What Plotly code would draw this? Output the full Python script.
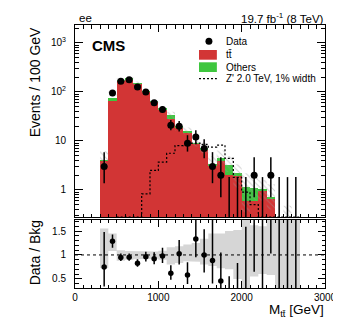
import numpy as np
import plotly.graph_objects as go

# ---------------- data ----------------
bin_lo = np.arange(300, 2700, 100)          # 100 GeV bins, 300 - 2700 GeV
bin_width = 100
data_counts = [3, 95, 165, 178, 126, 100, 60, 44, 21, 20, 9, 12, 7, 3, 2,
               0, 0, 0, 2, 0, 2, 0, 0, 0]
ttbar = [3.9, 66, 168, 181, 146, 101, 63, 43.5, 28, 18.7, 15.0, 8.7, 6.7, 3.2,
         3.95, 2.05, 1.9, 0.6, 0.6, 0.98, 0.67, 0.1, 0.25, 0.1]
others = [0.1, 8, 6, 6, 6, 3, 2, 1.5, 6, 0.8, 0.5, 0.3, 0.3, 0.2,
          0.45, 1.25, 0.3, 0.55, 0.5, 0.02, 0.02, 0, 0, 0]
zprime = [0, 0, 0, 0, 0, 0.83, 2.5, 3.7, 5.6, 8.0, 8.3, 9.0, 8.5, 7.5,
          8.2, 4.4, 1.8, 0.9, 0.5, 0, 0, 0, 0, 0]
zprime_first_bin = 2                         # drawn from 500 GeV on
unc_lo = [0.73, 1.08, 0.88, 0.90, 0.91, 0.92, 0.92, 0.90, 0.80, 0.83, 0.87, 0.86,
          0.80, 0.77, 0.72, 0.70, 0.50, 0.30, 0.55, 0.60, 0.58, 0.0, 0.0, 0.0]
unc_hi = [1.55, 1.45, 1.10, 1.08, 1.07, 1.07, 1.07, 1.09, 1.16, 1.18, 1.22, 1.25,
          1.34, 1.45, 1.45, 1.50, 1.52, 1.90, 1.62, 1.60, 1.90, 1.90, 1.90, 1.90]

top_ticks = [1, 10, 100, 1000]
top_ticktext = ["1", "10", "10<sup>2</sup>", "10<sup>3</sup>"]

# ---------------- derived ----------------
n = np.array(data_counts, float)
tt = np.array(ttbar, float)
ot = np.array(others, float)
stack = tt + ot
centers = bin_lo + bin_width / 2.0
edges = np.append(bin_lo, bin_lo[-1] + bin_width)

# approximate Garwood (68%) Poisson intervals
nn = np.maximum(n, 1e-9)
err_dn = np.where(n > 0, n - n * (1 - 1 / (9 * nn) - 1 / (3 * np.sqrt(nn))) ** 3, 0.0)
err_up = (n + 1) * (1 - 1 / (9 * (n + 1)) + 1 / (3 * np.sqrt(n + 1))) ** 3 - n

y_log_range = [np.log10(0.28), 3.367]
ratio_range = [0.31, 1.74]
tiny = 1e-3

FONT = "Liberation Sans, Arial, Helvetica, sans-serif"
RED = "#d23535"
GREEN = "#3ec63e"

W, H = 341, 320
L, R, T, B = 67, 22, 17, 40


def px_x(p):
    return (p - L) / (W - L - R)


def px_y(p):
    return (H - B - p) / (H - T - B)


fig = go.Figure()

# stacked backgrounds
fig.add_trace(go.Bar(x=centers, y=tt, width=bin_width, marker=dict(color=RED, line=dict(width=0)),
                     xaxis="x", yaxis="y", showlegend=False))
fig.add_trace(go.Bar(x=centers, y=ot, width=bin_width, marker=dict(color=GREEN, line=dict(width=0)),
                     xaxis="x", yaxis="y", showlegend=False))

# hatched uncertainty band on the stack
hx, hy = [], []
for i in range(len(bin_lo)):
    hx += [edges[i], edges[i + 1]]
    hy += [stack[i] * unc_hi[i]] * 2
for i in reversed(range(len(bin_lo))):
    hx += [edges[i + 1], edges[i]]
    hy += [max(stack[i] * unc_lo[i], tiny)] * 2
fig.add_trace(go.Scatter(x=hx, y=hy, mode="lines", fill="toself", line=dict(width=0),
                         fillcolor="rgba(0,0,0,0)",
                         fillpattern=dict(shape="\\", fgcolor="rgba(150,150,150,0.9)",
                                          bgcolor="rgba(0,0,0,0)", size=4, solidity=0.25),
                         xaxis="x", yaxis="y", showlegend=False, hoverinfo="skip"))

# Z' signal, dashed step line
zp = np.array(zprime, float)[zprime_first_bin:]
zp = np.maximum(zp, 10 ** y_log_range[0])
zx = edges[zprime_first_bin:]
fig.add_trace(go.Scatter(x=zx, y=np.append(zp, zp[-1]), mode="lines", line_shape="hv",
                         line=dict(color="black", width=1.2, dash="2px,2px"),
                         xaxis="x", yaxis="y", showlegend=False))

# data
fig.add_trace(go.Scatter(x=centers, y=np.where(n > 0, n, tiny), mode="markers",
                         marker=dict(size=7, color="black"),
                         error_y=dict(type="data", symmetric=False, array=err_up, arrayminus=err_dn,
                                      color="black", thickness=1.5, width=0),
                         xaxis="x", yaxis="y", showlegend=False))

# ratio band
bx, by = [], []
for i in range(len(bin_lo)):
    bx += [edges[i], edges[i + 1]]
    by += [unc_hi[i]] * 2
for i in reversed(range(len(bin_lo))):
    bx += [edges[i + 1], edges[i]]
    by += [unc_lo[i]] * 2
fig.add_trace(go.Scatter(x=bx, y=by, mode="lines", fill="toself", line=dict(width=0),
                         fillcolor="#d6d6d6", xaxis="x2", yaxis="y2", showlegend=False,
                         hoverinfo="skip"))

ratio = n / stack
fig.add_trace(go.Scatter(x=centers, y=ratio, mode="markers",
                         marker=dict(size=5.5, color="black"),
                         error_y=dict(type="data", symmetric=False, array=err_up / stack,
                                      arrayminus=err_dn / stack, color="black", thickness=1.5, width=0),
                         xaxis="x2", yaxis="y2", showlegend=False))

axis_common = dict(showline=True, linecolor="black", linewidth=1, mirror="allticks",
                   ticks="inside", tickcolor="black", showgrid=False, zeroline=False,
                   tickfont=dict(family=FONT, size=10, color="black"))

fig.update_layout(
    width=W, height=H, margin=dict(l=L, r=R, t=T, b=B),
    paper_bgcolor="white", plot_bgcolor="white",
    barmode="stack", bargap=0,
    font=dict(family=FONT, color="black"),
    xaxis=dict(domain=[0, 1], anchor="y", range=[0, 3000], dtick=1000, tick0=0, ticklen=7,
               showticklabels=False,
               minor=dict(ticks="inside", dtick=100, tick0=0, ticklen=3.5, tickcolor="black"),
               **axis_common),
    yaxis=dict(domain=[px_y(209), 1], anchor="x", type="log", range=y_log_range,
               tickmode="array", tickvals=top_ticks, ticktext=top_ticktext, ticklen=8,
               ticklabelstandoff=6,
               minor=dict(ticks="inside", ticklen=4, tickcolor="black",
                          tickvals=[m * 10 ** e for e in range(-1, 4) for m in range(2, 10)]),
               **axis_common),
    xaxis2=dict(domain=[0, 1], anchor="y2", matches="x", range=[0, 3000], dtick=1000, tick0=0,
                ticklen=7,
                minor=dict(ticks="inside", dtick=100, tick0=0, ticklen=3.5, tickcolor="black"),
                **axis_common),
    yaxis2=dict(domain=[0, px_y(211.5)], anchor="x2", range=ratio_range, tick0=0.5, dtick=0.5,
                ticklen=7, ticklabelstandoff=6,
                minor=dict(ticks="inside", dtick=0.1, tick0=0, ticklen=3.5, tickcolor="black"),
                **axis_common),
)

# unity line in ratio panel
fig.add_shape(type="line", xref="x2", yref="y2", x0=0, x1=3000, y0=1, y1=1,
              line=dict(color="black", width=1, dash="dot"))

# texts
ann = []
ann.append(dict(text="ee", x=px_x(69), y=px_y(10.5), xanchor="left", yanchor="middle",
                font=dict(size=11.5)))
ann.append(dict(text="19.7 fb<sup>-1</sup> (8 TeV)", x=px_x(320), y=px_y(10.5), xanchor="right",
                yanchor="middle", font=dict(size=11.5)))
ann.append(dict(text="<b>CMS</b>", x=px_x(82), y=px_y(37.5), xanchor="left", yanchor="middle",
                font=dict(size=15)))
ann.append(dict(text="Events / 100 GeV", x=px_x(27), y=px_y(74), xanchor="center",
                yanchor="middle", textangle=-90, font=dict(size=14)))
ann.append(dict(text="Data / Bkg", x=px_x(27), y=px_y(245), xanchor="center",
                yanchor="middle", textangle=-90, font=dict(size=14)))
ann.append(dict(text="M<sub>tt\u0304</sub> [GeV]", x=px_x(320), y=px_y(302), xanchor="right",
                yanchor="middle", font=dict(size=13.5)))

# legend (ROOT-style box legend)
leg_text_x = px_x(217)
rows = [("Data", 33.3), ("tt\u0304", 46.7), ("Others", 59.0), ("Z' 2.0 TeV, 1% width", 70.7)]
for label, yy in rows:
    ann.append(dict(text=label, x=leg_text_x, y=px_y(yy), xanchor="left", yanchor="middle",
                    font=dict(size=10)))
for a in ann:
    a.update(xref="paper", yref="paper", showarrow=False)
    a["font"].update(family=FONT, color="black")
fig.update_layout(annotations=ann)

fig.add_shape(type="circle", xref="paper", yref="paper", x0=px_x(198.5), x1=px_x(205.5),
              y0=px_y(36.8), y1=px_y(29.8), fillcolor="black", line=dict(width=0))
fig.add_shape(type="rect", xref="paper", yref="paper", x0=px_x(192), x1=px_x(210),
              y0=px_y(51.7), y1=px_y(42), fillcolor=RED, line=dict(width=0))
fig.add_shape(type="rect", xref="paper", yref="paper", x0=px_x(192), x1=px_x(210),
              y0=px_y(64), y1=px_y(54.3), fillcolor=GREEN, line=dict(width=0))
fig.add_shape(type="line", xref="paper", yref="paper", x0=px_x(192), x1=px_x(210),
              y0=px_y(70.7), y1=px_y(70.7), line=dict(color="black", width=1.2, dash="2px,2px"))

fig.write_html("out.html")
